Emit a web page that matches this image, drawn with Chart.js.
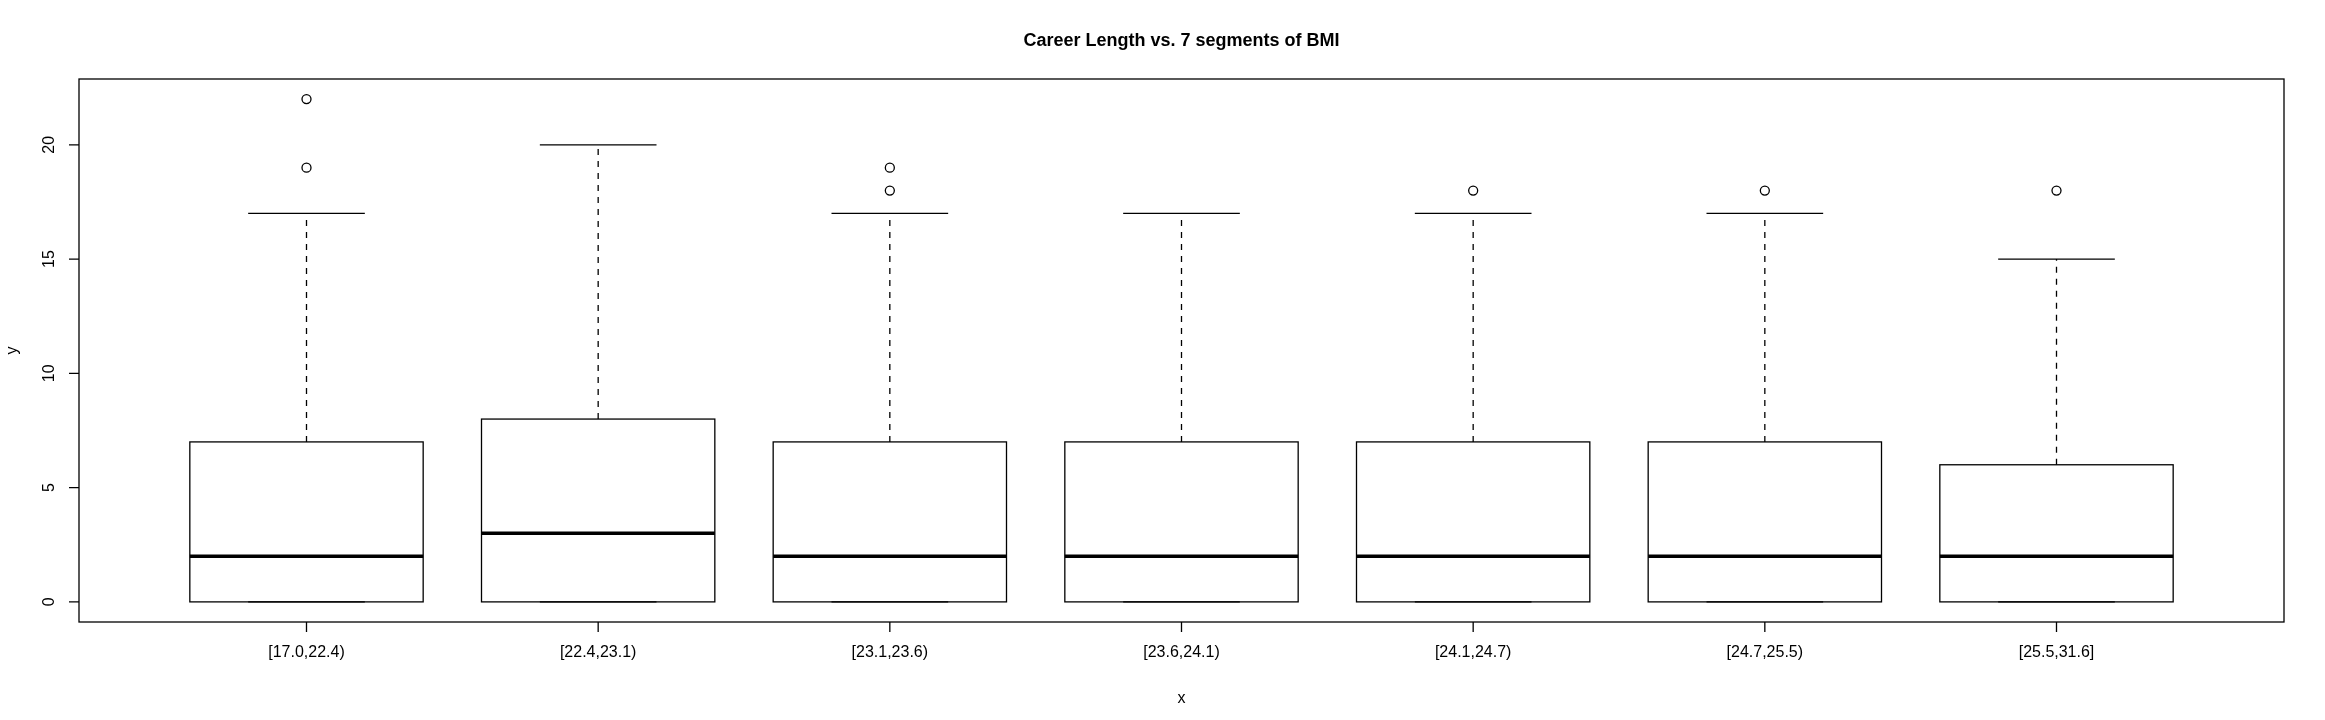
<!DOCTYPE html>
<html><head><meta charset="utf-8">
<script src="https://cdn.jsdelivr.net/npm/chart.js@4.4.1/dist/chart.umd.min.js"></script>
<style>html,body{margin:0;padding:0;background:#fff}#c{display:block}</style>
</head><body>
<canvas id="c" width="2325" height="720" style="width:2325px;height:720px"></canvas>
<script>
const categories = ["[17.0,22.4)","[22.4,23.1)","[23.1,23.6)","[23.6,24.1)","[24.1,24.7)","[24.7,25.5)","[25.5,31.6]"];
const whiskerLow = [0,0,0,0,0,0,0];
const q1 = [0,0,0,0,0,0,0];
const median = [2,3,2,2,2,2,2];
const q3 = [7,8,7,7,7,7,6];
const whiskerHigh = [17,20,17,17,17,17,15];
const outliers = [[19,22],[],[18,19],[],[18],[18],[18]];
const yTicks = [0,5,10,15,20];
const titleText = "Career Length vs. 7 segments of BMI";

const outlierPts = [];
outliers.forEach((arr,i)=>arr.forEach(v=>outlierPts.push({x:i+1,y:v})));
const FONT = '"Liberation Sans", Arial, sans-serif';

const boxPlugin = {
  id:'boxes',
  afterDatasetsDraw(chart){
    const ctx=chart.ctx, xs=chart.scales.x, ys=chart.scales.y, a=chart.chartArea;
    ctx.save();
    ctx.strokeStyle='#000'; ctx.fillStyle='#000';
    categories.forEach((c,i)=>{
      const cx=xs.getPixelForValue(i+1);
      const l=xs.getPixelForValue(i+1-0.4), r=xs.getPixelForValue(i+1+0.4);
      const sl=xs.getPixelForValue(i+1-0.2), sr=xs.getPixelForValue(i+1+0.2);
      const pq1=ys.getPixelForValue(q1[i]), pq3=ys.getPixelForValue(q3[i]);
      const pm=ys.getPixelForValue(median[i]);
      const pwl=ys.getPixelForValue(whiskerLow[i]), pwh=ys.getPixelForValue(whiskerHigh[i]);
      ctx.lineWidth=1.3; ctx.setLineDash([6,6]);
      ctx.beginPath(); ctx.moveTo(cx,pq3); ctx.lineTo(cx,pwh); ctx.moveTo(cx,pq1); ctx.lineTo(cx,pwl); ctx.stroke();
      ctx.setLineDash([]);
      ctx.beginPath(); ctx.moveTo(sl,pwh); ctx.lineTo(sr,pwh); ctx.moveTo(sl,pwl); ctx.lineTo(sr,pwl); ctx.stroke();
      ctx.strokeRect(l,pq3,r-l,pq1-pq3);
      ctx.lineWidth=3.5;
      ctx.beginPath(); ctx.moveTo(l,pm); ctx.lineTo(r,pm); ctx.stroke();
    });
    ctx.lineWidth=1.3;
    ctx.strokeRect(a.left,a.top,a.right-a.left,a.bottom-a.top);
    ctx.font='16px '+FONT; ctx.textAlign='center'; ctx.textBaseline='middle';
    ctx.beginPath();
    yTicks.forEach(v=>{const p=ys.getPixelForValue(v); ctx.moveTo(a.left-10,p); ctx.lineTo(a.left,p);});
    categories.forEach((c,i)=>{const p=xs.getPixelForValue(i+1); ctx.moveTo(p,a.bottom); ctx.lineTo(p,a.bottom+10);});
    ctx.stroke();
    yTicks.forEach(v=>{const p=ys.getPixelForValue(v); ctx.save(); ctx.translate(50,p); ctx.rotate(-Math.PI/2); ctx.fillText(String(v),0,0); ctx.restore();});
    categories.forEach((c,i)=>{ctx.fillText(c,xs.getPixelForValue(i+1),a.bottom+31);});
    ctx.fillText('x',(a.left+a.right)/2,a.bottom+77);
    ctx.save(); ctx.translate(13,(a.top+a.bottom)/2); ctx.rotate(-Math.PI/2); ctx.fillText('y',0,0); ctx.restore();
    ctx.font='bold 18px '+FONT;
    ctx.fillText(titleText,(a.left+a.right)/2,41);
    ctx.restore();
  }
};

new Chart(document.getElementById('c'),{
  type:'scatter',
  data:{datasets:[{data:outlierPts,pointStyle:'circle',pointRadius:4.5,borderColor:'#000',borderWidth:1.3,backgroundColor:'rgba(0,0,0,0)'}]},
  options:{
    responsive:false,animation:false,devicePixelRatio:1,
    layout:{padding:{left:79,top:79,right:41,bottom:98}},
    plugins:{legend:{display:false},tooltip:{enabled:false}},
    scales:{
      x:{type:'linear',min:0.22,max:7.78,display:false},
      y:{type:'linear',min:-0.88,max:22.88,display:false}
    }
  },
  plugins:[boxPlugin]
});
</script>
</body></html>
